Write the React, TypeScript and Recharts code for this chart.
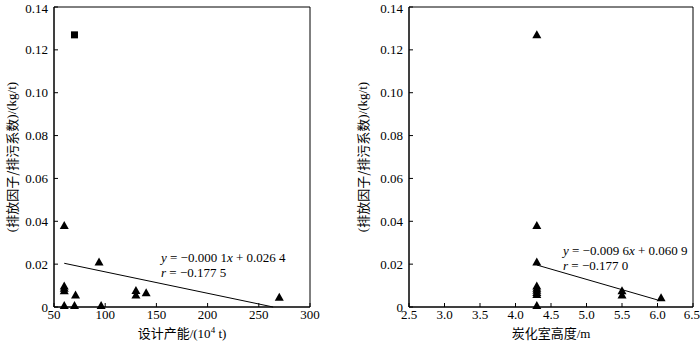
import React from 'react';
import {
  ScatterChart,
  Scatter,
  XAxis,
  YAxis,
  ReferenceArea,
  Label,
} from 'recharts';

// 左图：设计产能
const capacityTri = [60, 60, 60, 60, 60, 71, 70, 94, 96, 130, 130, 140, 270];
const factorTriA = [0.038, 0.0098, 0.0087, 0.0076, 0.0007, 0.0056, 0.0007, 0.021, 0.0007, 0.0077, 0.0056, 0.0067, 0.0045];
const capacitySq = [70];
const factorSq = [0.127];
const trendCapacityX = [60, 264];
const trendCapacityY = [0.0204, 0];
const capacityTicks = [50, 100, 150, 200, 250, 300];

// 右图：炭化室高度
const heightTri = [4.3, 4.3, 4.3, 4.3, 4.3, 4.3, 4.3, 4.3, 4.3, 5.5, 5.5, 6.05];
const factorTriB = [0.127, 0.038, 0.021, 0.0098, 0.0088, 0.0078, 0.0068, 0.0058, 0.0007, 0.0076, 0.0056, 0.0043];
const trendHeightX = [4.3, 6.0];
const trendHeightY = [0.0196, 0.0033];
const heightTicks = [2.5, 3.0, 3.5, 4.0, 4.5, 5.0, 5.5, 6.0, 6.5];

const factorTicks = [0, 0.02, 0.04, 0.06, 0.08, 0.1, 0.12, 0.14];

const zip = (xs: number[], ys: number[]) => xs.map((x, i) => ({ x, y: ys[i] }));

const SERIF = 'Liberation Serif';
const CJK = 'Noto Sans CJK SC';

const tickStyle = { fontSize: 13, fill: '#000', fontFamily: SERIF };

const Triangle = (props: any) => {
  const { cx, cy } = props;
  return (
    <polygon
      points={`${cx - 4.5},${cy + 3.5} ${cx + 4.5},${cy + 3.5} ${cx},${cy - 4.5}`}
      fill="#000"
    />
  );
};

const Square = (props: any) => {
  const { cx, cy } = props;
  return <rect x={cx - 3.5} y={cy - 3.5} width={7} height={7} fill="#000" />;
};

const NoDot = () => <g />;

const YLabel = (props: any) => {
  const { viewBox, cxOffset } = props;
  const cy = viewBox.y + viewBox.height / 2;
  const cx = cxOffset;
  return (
    <text
      x={cx}
      y={cy}
      transform={`rotate(-90 ${cx} ${cy})`}
      textAnchor="middle"
      dominantBaseline="central"
      fontSize={13}
      fill="#000"
    >
      <tspan fontFamily={SERIF}>(</tspan>
      <tspan fontFamily={CJK}>排放因子/排污系数</tspan>
      <tspan fontFamily={SERIF}>)/(kg/t)</tspan>
    </text>
  );
};

const CapacityLabel = (props: any) => {
  const { viewBox } = props;
  const cx = viewBox.x + viewBox.width / 2;
  return (
    <text x={cx} y={338} textAnchor="middle" fontSize={13} fill="#000">
      <tspan fontFamily={CJK}>设计产能</tspan>
      <tspan fontFamily={SERIF}>/(10</tspan>
      <tspan fontFamily={SERIF} dy={-5} fontSize={9}>4</tspan>
      <tspan fontFamily={SERIF} dy={5}> t)</tspan>
    </text>
  );
};

const HeightLabel = (props: any) => {
  const { viewBox } = props;
  const cx = viewBox.x + viewBox.width / 2;
  return (
    <text x={cx} y={338} textAnchor="middle" fontSize={13} fill="#000">
      <tspan fontFamily={CJK}>炭化室高度</tspan>
      <tspan fontFamily={SERIF}>/m</tspan>
    </text>
  );
};

const fmtFactor = (v: number) => (v === 0 ? '0' : v.toFixed(2));

export default function App() {
  return (
    <div style={{ position: 'absolute', left: 0, top: 0, width: 700, height: 345, background: '#fff' }}>
      <div style={{ position: 'absolute', left: 0, top: 0 }}>
        <ScatterChart width={350} height={345} margin={{ top: 7, right: 40, bottom: 0, left: 0 }}>
          <XAxis
            type="number"
            dataKey="x"
            domain={[50, 300]}
            ticks={capacityTicks}
            allowDataOverflow
            height={38}
            stroke="#000"
            tickSize={-4}
            tickMargin={7}
            tick={tickStyle}
            label={<Label content={<CapacityLabel />} />}
          />
          <YAxis
            type="number"
            dataKey="y"
            domain={[0, 0.14]}
            ticks={factorTicks}
            width={54}
            stroke="#000"
            tickSize={-4}
            tickMargin={10}
            tick={tickStyle}
            tickFormatter={fmtFactor}
            label={<Label content={<YLabel cxOffset={11} />} />}
          />
          <ReferenceArea x1={50} x2={300} y1={0} y2={0.14} fill="none" stroke="#000" strokeWidth={1} />
          <Scatter data={zip(trendCapacityX, trendCapacityY)} line={{ stroke: '#000', strokeWidth: 1 }} shape={<NoDot />} isAnimationActive={false} />
          <Scatter data={zip(capacityTri, factorTriA)} shape={<Triangle />} isAnimationActive={false} />
          <Scatter data={zip(capacitySq, factorSq)} shape={<Square />} isAnimationActive={false} />
          <text x={161} y={262} fontSize={13} fontFamily={SERIF} fill="#000">
            <tspan fontStyle="italic">y</tspan> = −0.000 1<tspan fontStyle="italic">x</tspan> + 0.026 4
          </text>
          <text x={161} y={277} fontSize={13} fontFamily={SERIF} fill="#000">
            <tspan fontStyle="italic">r</tspan> = −0.177 5
          </text>
        </ScatterChart>
      </div>
      <div style={{ position: 'absolute', left: 350, top: 0 }}>
        <ScatterChart width={350} height={345} margin={{ top: 7, right: 7, bottom: 0, left: 0 }}>
          <XAxis
            type="number"
            dataKey="x"
            domain={[2.5, 6.5]}
            ticks={heightTicks}
            height={38}
            stroke="#000"
            tickSize={-4}
            tickMargin={7}
            tick={tickStyle}
            tickFormatter={(v: number) => v.toFixed(1)}
            label={<Label content={<HeightLabel />} />}
          />
          <YAxis
            type="number"
            dataKey="y"
            domain={[0, 0.14]}
            ticks={factorTicks}
            width={59}
            stroke="#000"
            tickSize={-4}
            tickMargin={10}
            tick={tickStyle}
            tickFormatter={fmtFactor}
            label={<Label content={<YLabel cxOffset={12} />} />}
          />
          <ReferenceArea x1={2.5} x2={6.5} y1={0} y2={0.14} fill="none" stroke="#000" strokeWidth={1} />
          <Scatter data={zip(trendHeightX, trendHeightY)} line={{ stroke: '#000', strokeWidth: 1 }} shape={<NoDot />} isAnimationActive={false} />
          <Scatter data={zip(heightTri, factorTriB)} shape={<Triangle />} isAnimationActive={false} />
          <text x={213} y={255} fontSize={13} fontFamily={SERIF} fill="#000">
            <tspan fontStyle="italic">y</tspan> = −0.009 6<tspan fontStyle="italic">x</tspan> + 0.060 9
          </text>
          <text x={213} y={270} fontSize={13} fontFamily={SERIF} fill="#000">
            <tspan fontStyle="italic">r</tspan> = −0.177 0
          </text>
        </ScatterChart>
      </div>
    </div>
  );
}
